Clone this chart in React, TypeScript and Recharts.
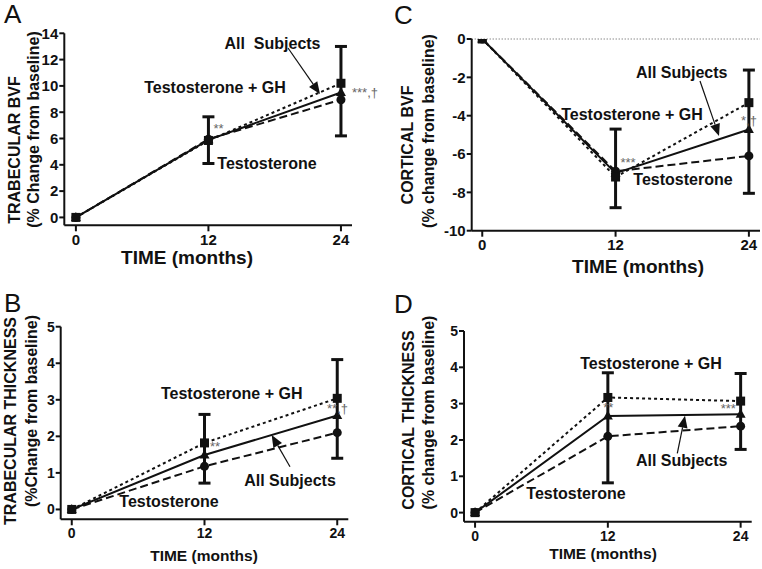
import React from 'react';
import { LineChart, Line, XAxis, YAxis, ErrorBar, ReferenceLine } from 'recharts';

const FONT = '"Liberation Sans", Arial, Helvetica, sans-serif';
const INK = '#111';
const STAR = '#666';

// ---------- data ----------
const months = [0, 12, 24];
const errMonths = [12, 24];
const xTicks = [0, 12, 24];

// Panel A: Trabecular BVF
const aTgh = [0, 5.85, 10.2];
const aAll = [0, 5.9, 9.5];
const aTest = [0, 5.95, 8.95];
const aErrHi = [7.65, 13.0];
const aErrLo = [4.1, 6.2];
const aTicks = [0, 2, 4, 6, 8, 10, 12, 14];

// Panel B: Trabecular thickness
const bTgh = [0, 1.82, 3.04];
const bAll = [0, 1.49, 2.57];
const bTest = [0, 1.18, 2.1];
const bErrHi = [2.6, 4.1];
const bErrLo = [0.72, 1.4];
const bTicks = [0, 1, 2, 3, 4, 5];

// Panel C: Cortical BVF
const cTgh = [0, -7.2, -3.32];
const cAll = [0, -7.0, -4.72];
const cTest = [0, -6.9, -6.1];
const cErrHi = [-4.7, -1.62];
const cErrLo = [-8.8, -8.05];
const cTicks = [0, -2, -4, -6, -8, -10];

// Panel D: Cortical thickness
const dTgh = [0, 3.17, 3.07];
const dAll = [0, 2.66, 2.71];
const dTest = [0, 2.1, 2.38];
const dErrHi = [3.85, 3.83];
const dErrLo = [0.82, 1.74];
const dTicks = [0, 1, 2, 3, 4, 5];

function buildRows(tgh: number[], all: number[], test: number[]) {
  return months.map((m, i) => ({ x: m, tgh: tgh[i], all: all[i], test: test[i] }));
}
function buildErr(hi: number[], lo: number[]) {
  return errMonths.map((m, i) => ({ x: m, mid: (hi[i] + lo[i]) / 2, err: (hi[i] - lo[i]) / 2 }));
}

// ---------- markers ----------
const SquareDot = (p: any) => {
  if (p.cx == null || p.cy == null) return <g key={p.key} />;
  return <rect key={p.key} x={p.cx - 4.5} y={p.cy - 4.5} width={9} height={9} fill={INK} />;
};
const TriangleDot = (p: any) => {
  if (p.cx == null || p.cy == null) return <g key={p.key} />;
  const { cx, cy } = p;
  return <polygon key={p.key} points={`${cx},${cy - 5.5} ${cx - 5},${cy + 3.5} ${cx + 5},${cy + 3.5}`} fill={INK} />;
};
const CircleDot = (p: any) => {
  if (p.cx == null || p.cy == null) return <g key={p.key} />;
  return <circle key={p.key} cx={p.cx} cy={p.cy} r={4.5} fill={INK} />;
};

type PanelProps = {
  left: number; top: number; width: number; height: number;
  margin: { top: number; right: number; bottom: number; left: number };
  xDomain: [number, number];
  yDomain: [number, number];
  yTicks: number[];
  rows: any[];
  errRows: any[];
  tickFont: number;
  zeroLine?: boolean;
};

function Panel(props: PanelProps) {
  const { left, top, width, height, margin, xDomain, yDomain, yTicks, rows, errRows, tickFont, zeroLine } = props;
  const tickStyle = { fill: INK, fontSize: tickFont, fontWeight: 700, fontFamily: FONT };
  return (
    <div style={{ position: 'absolute', left, top }}>
      <LineChart width={width} height={height} data={rows} margin={margin}>
        <XAxis
          type="number" dataKey="x" domain={xDomain} ticks={xTicks} allowDataOverflow interval={0}
          height={30} tickSize={6} tickMargin={3}
          axisLine={{ stroke: INK, strokeWidth: 2 }} tickLine={{ stroke: INK, strokeWidth: 2 }}
          tick={tickStyle}
        />
        <YAxis
          type="number" domain={yDomain} ticks={yTicks} allowDataOverflow interval={0}
          width={50} tickSize={5} tickMargin={1}
          axisLine={{ stroke: INK, strokeWidth: 2 }} tickLine={{ stroke: INK, strokeWidth: 2 }}
          tick={tickStyle}
        />
        {zeroLine ? <ReferenceLine y={0} stroke="#555" strokeWidth={1} strokeDasharray="1 2" /> : null}
        <Line data={errRows} dataKey="mid" stroke="none" dot={false} activeDot={false} isAnimationActive={false} legendType="none">
          <ErrorBar dataKey="err" direction="y" width={6} stroke={INK} strokeWidth={3} isAnimationActive={false} />
        </Line>
        <Line dataKey="test" stroke={INK} strokeWidth={2} strokeDasharray="8 4" dot={CircleDot} activeDot={false} isAnimationActive={false} />
        <Line dataKey="all" stroke={INK} strokeWidth={2} dot={TriangleDot} activeDot={false} isAnimationActive={false} />
        <Line dataKey="tgh" stroke={INK} strokeWidth={2} strokeDasharray="3 3" dot={SquareDot} activeDot={false} isAnimationActive={false} />
      </LineChart>
    </div>
  );
}

// ---------- annotations ----------
function Arrow({ x1, y1, x2, y2 }: { x1: number; y1: number; x2: number; y2: number }) {
  const dx = x2 - x1, dy = y2 - y1;
  const L = Math.hypot(dx, dy);
  const ux = dx / L, uy = dy / L;
  const hl = 12, hw = 5;
  const bx = x2 - ux * hl, by = y2 - uy * hl;
  return (
    <g>
      <line x1={x1} y1={y1} x2={bx} y2={by} stroke={INK} strokeWidth={1.2} />
      <polygon points={`${x2},${y2} ${bx - uy * hw},${by + ux * hw} ${bx + uy * hw},${by - ux * hw}`} fill={INK} />
    </g>
  );
}

const Note = ({ x, y, children, size = 16, anchor = 'middle', weight = 700, fill = INK }: any) => (
  <text x={x} y={y} textAnchor={anchor} dominantBaseline="central" fontSize={size} fontWeight={weight} fill={fill} fontFamily={FONT}>
    {children}
  </text>
);

const VLabel = ({ x, y, children, size = 16 }: any) => (
  <text x={x} y={y} transform={`rotate(-90 ${x} ${y})`} textAnchor="middle" dominantBaseline="central" fontSize={size} fontWeight={700} fill={INK} fontFamily={FONT}>
    {children}
  </text>
);

const Letter = ({ x, y, children }: any) => (
  <text x={x} y={y} fontSize={26} fill={INK} fontFamily={FONT}>{children}</text>
);

export default function App() {
  return (
    <div style={{ position: 'absolute', left: 0, top: 0, width: 762, height: 569, background: '#fff', overflow: 'hidden' }}>
      <Panel left={0} top={0} width={381} height={284}
        margin={{ top: 33.3, right: 29, bottom: 28.7, left: 14.3 }}
        xDomain={[-1.05, 25]} yDomain={[-0.6, 14]} yTicks={aTicks}
        rows={buildRows(aTgh, aAll, aTest)} errRows={buildErr(aErrHi, aErrLo)} tickFont={15} />
      <Panel left={381} top={0} width={381} height={284}
        margin={{ top: 39, right: 2, bottom: 23.3, left: 40.7 }}
        xDomain={[-0.95, 25]} yDomain={[-10, 0]} yTicks={cTicks}
        rows={buildRows(cTgh, cAll, cTest)} errRows={buildErr(cErrHi, cErrLo)} tickFont={15} zeroLine />
      <Panel left={0} top={284} width={381} height={285}
        margin={{ top: 42.7, right: 32.7, bottom: 19.7, left: 10.7 }}
        xDomain={[-1, 25]} yDomain={[-0.27, 5]} yTicks={bTicks}
        rows={buildRows(bTgh, bAll, bTest)} errRows={buildErr(bErrHi, bErrLo)} tickFont={14} />
      <Panel left={381} top={284} width={381} height={285}
        margin={{ top: 47, right: 10.3, bottom: 17.3, left: 33 }}
        xDomain={[-1, 25]} yDomain={[-0.25, 5]} yTicks={dTicks}
        rows={buildRows(dTgh, dAll, dTest)} errRows={buildErr(dErrHi, dErrLo)} tickFont={14} />

      <svg width={762} height={569} style={{ position: 'absolute', left: 0, top: 0, pointerEvents: 'none' }}>
        {/* Panel letters */}
        <Letter x={4} y={23}>A</Letter>
        <Letter x={394} y={24}>C</Letter>
        <Letter x={4} y={312}>B</Letter>
        <Letter x={394} y={313}>D</Letter>

        {/* Y axis titles */}
        <VLabel x={14.5} y={150}>TRABECULAR BVF</VLabel>
        <VLabel x={33} y={129.5}>(% Change from baseline)</VLabel>
        <VLabel x={10.5} y={421}>TRABECULAR THICKNESS</VLabel>
        <VLabel x={31.5} y={411}>(%Change from baseline)</VLabel>
        <VLabel x={407} y={145}>CORTICAL BVF</VLabel>
        <VLabel x={428} y={131}>(% change from baseline)</VLabel>
        <VLabel x={408} y={420}>CORTICAL THICKNESS</VLabel>
        <VLabel x={428} y={412.5}>(% change from baseline)</VLabel>

        {/* X axis titles */}
        <Note x={187} y={257} size={19}>TIME (months)</Note>
        <Note x={638} y={266.5} size={19}>TIME (months)</Note>
        <Note x={204} y={555} size={15.5}>TIME (months)</Note>
        <Note x={603} y={553} size={15.5}>TIME (months)</Note>

        {/* Panel A notes */}
        <Note x={272.5} y={43}>{'All\u00a0 Subjects'}</Note>
        <Note x={215} y={87}>Testosterone + GH</Note>
        <Note x={267} y={163}>Testosterone</Note>
        <Arrow x1={288} y1={48} x2={320} y2={94} />
        <Note x={218.5} y={128} size={13} weight={400} fill={STAR}>**</Note>
        <Note x={352} y={92} size={13} weight={400} fill={STAR} anchor="start">{'***,\u2020'}</Note>

        {/* Panel C notes */}
        <Note x={681.7} y={72}>All Subjects</Note>
        <Arrow x1={700} y1={81} x2={719} y2={136} />
        <Note x={632} y={114.5}>Testosterone + GH</Note>
        <Note x={683} y={179.3}>Testosterone</Note>
        <Note x={628} y={162} size={13} weight={400} fill={STAR}>***</Note>
        <Note x={749} y={120} size={13} weight={400} fill={STAR}>{'*,\u2020'}</Note>

        {/* Panel B notes */}
        <Note x={231.7} y={393.3}>Testosterone + GH</Note>
        <Note x={169} y={501.7}>Testosterone</Note>
        <Note x={290} y={480}>All Subjects</Note>
        <Arrow x1={290} y1={466.7} x2={271.7} y2={435} />
        <Note x={215} y={446.7} size={13} weight={400} fill={STAR}>**</Note>
        <Note x={337.5} y={408} size={13} weight={400} fill={STAR}>{'**,\u2020'}</Note>

        {/* Panel D notes */}
        <Note x={651} y={363.3}>Testosterone + GH</Note>
        <Note x={576} y={493.3}>Testosterone</Note>
        <Note x={681.7} y={460.7}>All Subjects</Note>
        <Arrow x1={677.3} y1={453.3} x2={685} y2={415.7} />
        <Note x={608.3} y={407.3} size={13} weight={400} fill={STAR}>**</Note>
        <Note x={728.3} y={408.3} size={13} weight={400} fill={STAR}>***</Note>
      </svg>
    </div>
  );
}
